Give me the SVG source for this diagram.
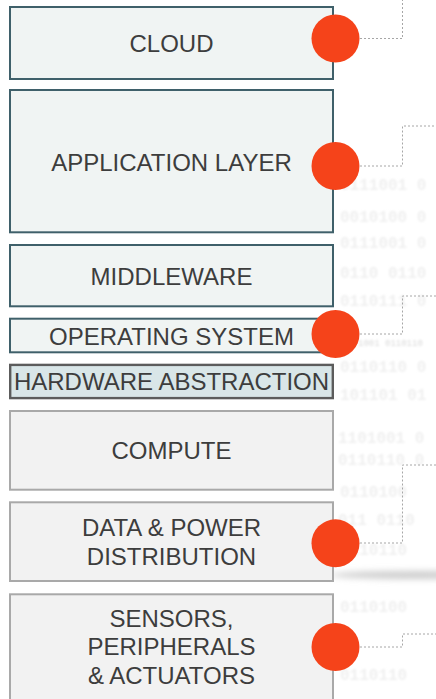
<svg xmlns="http://www.w3.org/2000/svg" width="436" height="699" viewBox="0 0 436 699">
  <defs>
    <style>
      .label { font-family: "Liberation Sans", Arial, sans-serif; font-size: 24px; fill: #3d3d3d; text-anchor: middle; }
      .bits { font-family: "Liberation Mono", "DejaVu Sans Mono", monospace; font-weight: bold; font-size: 16px; fill: #f0f0f0; }
      .bits-sm { font-family: "Liberation Mono", "DejaVu Sans Mono", monospace; font-size: 9px; fill: #dadada; }
      .soft { stroke: #3f606a; stroke-width: 2; fill: #f0f4f3; }
      .hal { stroke: #5c5c5c; stroke-width: 2.4; fill: #d9e6e8; }
      .hw { stroke: #a9a9a9; stroke-width: 2; fill: #f2f2f2; }
      .dot { fill: #f5431a; }
      .link { fill: none; stroke: #a6a6a6; stroke-width: 1; stroke-dasharray: 2 2; }
    </style>
    <filter id="haze" x="-10%" y="-50%" width="120%" height="200%">
      <feGaussianBlur stdDeviation="0.8"/>
    </filter>
    <filter id="smear" x="-20%" y="-200%" width="140%" height="500%">
      <feGaussianBlur stdDeviation="3"/>
    </filter>
  </defs>

  <rect width="436" height="699" fill="#ffffff"/>

  <!-- faint binary backdrop -->
  <g id="backdrop" filter="url(#haze)">
    <text class="bits" x="340" y="190">0111001 0</text>
    <text class="bits" x="340" y="222">0010100 0</text>
    <text class="bits" x="340" y="248">0111001 0</text>
    <text class="bits" x="340" y="278">0110 0110</text>
    <text class="bits" x="340" y="306">0110111 0</text>
    <text class="bits" x="340" y="372">0110110 0</text>
    <text class="bits" x="340" y="400">101101 01</text>
    <text class="bits" x="338" y="443">1101001 0</text>
    <text class="bits" x="338" y="465">0110110 0</text>
    <text class="bits" x="340" y="497">0110100</text>
    <text class="bits" x="338" y="525">011 0110</text>
    <text class="bits" x="340" y="555">0110110</text>
    <text class="bits" x="340" y="612">0110100</text>
    <text class="bits" x="340" y="680">0110110</text>
    <text class="bits-sm" x="358" y="346">1001 0110110</text>
  </g>
  <ellipse cx="420" cy="575" rx="90" ry="4" fill="#cdcdcd" filter="url(#smear)"/>

  <!-- dashed leader lines -->
  <g id="connectors">
    <polyline class="link" points="360,38.5 402.5,38.5 402.5,0"/>
    <polyline class="link" points="360,166 402.5,166 402.5,126 436,126"/>
    <polyline class="link" points="360,334 402.5,334 402.5,296 436,296"/>
    <polyline class="link" points="360,543 402.5,543 402.5,465 436,465"/>
    <polyline class="link" points="360,647 402.5,647 402.5,634 436,634"/>
  </g>

  <g id="cloud">
    <rect class="soft" x="10" y="7" width="323" height="72"/>
    <text class="label" x="171.5" y="52.3">CLOUD</text>
    <circle class="dot" cx="335.5" cy="38.5" r="24"/>
  </g>

  <g id="application-layer">
    <rect class="soft" x="10" y="90" width="323" height="142.3"/>
    <text class="label" x="171.5" y="170.7">APPLICATION LAYER</text>
    <circle class="dot" cx="335.5" cy="166" r="24"/>
  </g>

  <g id="middleware">
    <rect class="soft" x="10" y="245" width="323" height="61.3"/>
    <text class="label" x="171.5" y="285">MIDDLEWARE</text>
  </g>

  <g id="operating-system">
    <rect class="soft" x="10" y="318.7" width="323" height="33.6"/>
    <text class="label" x="171.5" y="344.7">OPERATING SYSTEM</text>
    <circle class="dot" cx="335.5" cy="334" r="24"/>
  </g>

  <g id="hardware-abstraction">
    <rect class="hal" x="10.2" y="364.9" width="322.6" height="33.2"/>
    <text class="label" x="171.5" y="390.3">HARDWARE ABSTRACTION</text>
  </g>

  <g id="compute">
    <rect class="hw" x="10" y="411" width="323" height="78.7"/>
    <text class="label" x="171.5" y="458.7">COMPUTE</text>
  </g>

  <g id="data-power-distribution">
    <rect class="hw" x="10" y="502.3" width="323" height="78.7"/>
    <text class="label" x="171.5" y="536">DATA &amp; POWER</text>
    <text class="label" x="171.5" y="564.7">DISTRIBUTION</text>
    <circle class="dot" cx="335.5" cy="543.3" r="24"/>
  </g>

  <g id="sensors-peripherals-actuators">
    <rect class="hw" x="10" y="594.3" width="323" height="120"/>
    <text class="label" x="171.5" y="626.7">SENSORS,</text>
    <text class="label" x="171.5" y="655.3">PERIPHERALS</text>
    <text class="label" x="171.5" y="684.3">&amp; ACTUATORS</text>
    <circle class="dot" cx="335.5" cy="647" r="24"/>
  </g>
</svg>
